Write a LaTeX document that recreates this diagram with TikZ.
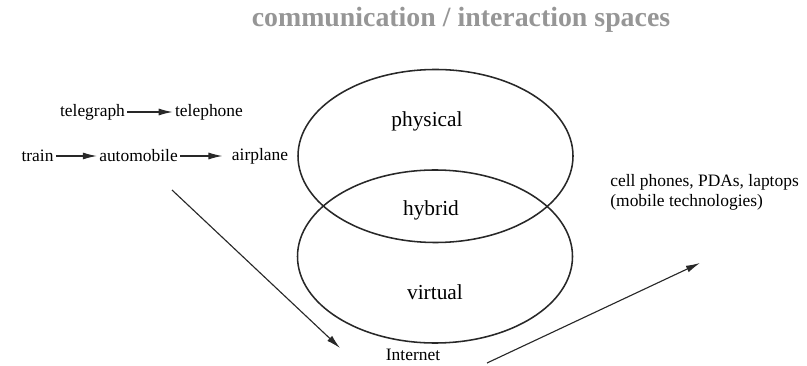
\documentclass[tikz,border=0pt]{standalone}
\usepackage{fontspec}
\setmainfont{Liberation Serif}
\usetikzlibrary{arrows.meta}
\tikzset{>={Latex[length=10pt,width=5pt]}}
\definecolor{mygray}{RGB}{150, 150, 150}
\definecolor{mydark}{RGB}{40, 40, 40}
\tikzset{
  word/.style = {inner sep=1.5pt, font=\fontsize{12.4}{14}\selectfont},
  space/.style = {inner sep=1pt, font=\fontsize{15.2}{17}\selectfont},
  link/.style = {->, line width=0.8pt, mydark}
}

\begin{document}
\begin{tikzpicture}[x=0.025cm, y=-0.025cm]
\useasboundingbox (0,0) rectangle (807,366);
\node[font=\bfseries\fontsize{19.8}{22}\selectfont, text=mygray] (title) at (461, 20) {communication / interaction spaces};
% the two spaces
\draw[line width=1.1pt, mydark] (435.5,156) ellipse [x radius=137.5, y radius=86.5];
\draw[line width=1.1pt, mydark] (435,256.5) ellipse [x radius=137.5, y radius=86.5];
\node[space] (physical) at (427, 121) {physical};
\node[space] (hybrid) at (431, 210) {hybrid};
\node[space] (virtual) at (435, 292) {virtual};
% older technologies
\node[word] (telegraph) at (92.5, 112) {telegraph};
\node[word] (telephone) at (209, 112) {telephone};
\node[word] (train) at (37.5, 156) {train};
\node[word] (automobile) at (138.5, 156) {automobile};
\node[word] (airplane) at (260, 156) {airplane};
\draw[link] (telegraph) -- (telephone);
\draw[link] (train) -- (automobile);
\draw[link, shorten >=5pt] (automobile) -- (airplane);
% newer technologies
\node[word] (internet) at (413, 355) {Internet};
\node[word, anchor=west, align=left] (mobile) at (608, 192) {cell phones, PDAs, laptops\\(mobile technologies)};
\coordinate (inA) at (172, 190);
\coordinate (inB) at (340, 348);
\coordinate (moA) at (487, 363);
\coordinate (moB) at (700, 263);
\draw[link] (inA) -- (inB);
\draw[link] (moA) -- (moB);
\end{tikzpicture}
\end{document}
